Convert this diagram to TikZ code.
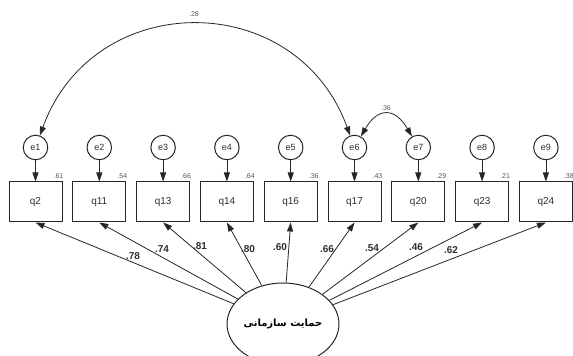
\documentclass[tikz,border=0pt]{standalone}
\usepackage{fontspec}
\setmainfont{Liberation Sans}
\newfontfamily\arabicfont[Script=Arabic]{DejaVu Sans}
\TeXXeTstate=1
\usetikzlibrary{arrows.meta,shapes.geometric}
\definecolor{linec}{HTML}{262626}
\definecolor{textc}{HTML}{2E2E2E}
\definecolor{graytext}{HTML}{555555}
\begin{document}
\begin{tikzpicture}[x=1pt,y=1pt,
  obs/.style={draw=linec, line width=1pt, minimum width=53pt, minimum height=40pt, inner sep=0pt, font=\fontsize{10}{12}\selectfont, text=textc},
  err/.style={draw=linec, line width=1pt, circle, minimum size=24.5pt, inner sep=0pt, font=\fontsize{9}{10}\selectfont, text=textc},
  lat/.style={draw=linec, line width=1pt, ellipse, minimum width=112pt, minimum height=82pt, inner sep=0pt},
  arr/.style={-{Triangle[length=9pt,width=6pt]}, line width=0.8pt, draw=linec},
  darr/.style={{Triangle[length=9pt,width=6pt]}-{Triangle[length=9pt,width=6pt]}, line width=0.8pt, draw=linec},
  rsq/.style={font=\fontsize{7}{8}\selectfont, text=graytext, inner sep=0pt},
  load/.style={font=\bfseries\fontsize{10}{12}\selectfont, text=textc, inner sep=0pt}]
\useasboundingbox (0,0) rectangle (573,356);
\clip (0,0) rectangle (573,356);
\foreach \i/\q/\e/\r in {0/q2/e1/.61, 1/q11/e2/.54, 2/q13/e3/.66, 3/q14/e4/.64, 4/q16/e5/.36, 5/q17/e6/.43, 6/q20/e7/.29, 7/q23/e8/.21, 8/q24/e9/.38} {
  \pgfmathsetmacro\xx{35.5+63.8*\i}
  \node[obs] (\q) at (\xx,154) {\q};
  \node[err] (\e) at (\xx,208.5) {\e};
  \node[rsq] (r\q) at (\xx+23,180) {\r};
  \draw[arr] (\e) -- (\q);
}
\node[lat] (F) at (283,32) {\arabicfont\bfseries\fontsize{10}{12}\selectfont\beginR حمایت سازمانی\endR};
\foreach \q in {q2,q11,q13,q14,q16,q17,q20,q23,q24} {
  \draw[arr] (F) -- (\q.south);
}
\node[load] (l1) at (133,100) {.78};
\node[load] (l2) at (162,107) {.74};
\node[load] (l3) at (200,110) {.81};
\node[load] (l4) at (248,107) {.80};
\node[load] (l5) at (280,109) {.60};
\node[load] (l6) at (327,107) {.66};
\node[load] (l7) at (372,108) {.54};
\node[load] (l8) at (416,109) {.46};
\node[load] (l9) at (451,106) {.62};
\draw[darr] (e1) to[out=70,in=110,looseness=1.3] (e6);
\node[rsq] (c1) at (194,342) {.28};
\draw[darr] (e6) to[out=60,in=120,looseness=1.7] (e7);
\node[rsq] (c2) at (386,248) {.36};
\end{tikzpicture}
\end{document}
